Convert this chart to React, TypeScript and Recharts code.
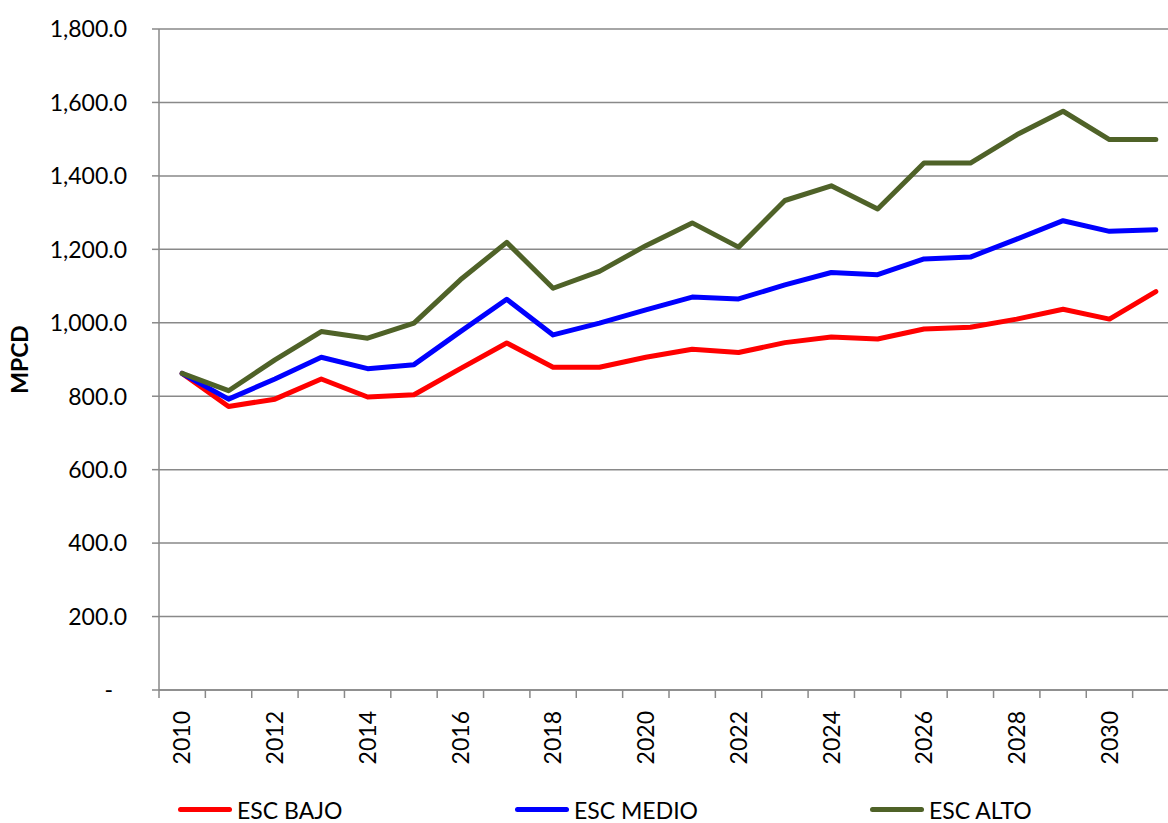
import React from 'react';
import { LineChart, Line, XAxis, YAxis, CartesianGrid } from 'recharts';

const years = [
  '2010', '2011', '2012', '2013', '2014', '2015', '2016', '2017', '2018', '2019', '2020',
  '2021', '2022', '2023', '2024', '2025', '2026', '2027', '2028', '2029', '2030', '2031',
];

const escBajo = [862, 772, 792, 847, 798, 804, 875, 945, 879, 879, 906, 928, 919, 946, 961, 956, 983, 988, 1010, 1037, 1010, 1085];
const escMedio = [862, 792, 847, 906, 875, 886, 976, 1064, 967, 999, 1035, 1070, 1065, 1103, 1137, 1131, 1174, 1179, 1228, 1278, 1249, 1253];
const escAlto = [862, 815, 899, 976, 958, 999, 1117, 1219, 1094, 1140, 1210, 1272, 1206, 1333, 1373, 1310, 1435, 1435, 1512, 1576, 1499, 1499];

const yTicks = [0, 200, 400, 600, 800, 1000, 1200, 1400, 1600, 1800];

const seriesNames = ['ESC BAJO', 'ESC MEDIO', 'ESC ALTO'];
const seriesKeys = ['bajo', 'medio', 'alto'];
const seriesColors = ['#FF0000', '#0000FF', '#4F6228'];

const data = years.map((year, i) => ({
  year,
  bajo: escBajo[i],
  medio: escMedio[i],
  alto: escAlto[i],
}));

const CHART_W = 1200;
const CHART_H = 823;
const Y_AXIS_W = 159;
const MARGIN = { top: 29, right: 21, bottom: 43, left: 0 };
const BAND = (CHART_W - MARGIN.left - MARGIN.right - Y_AXIS_W) / years.length;
const GRID = '#898989';
const FONT = 'Lato, "Open Sans", sans-serif';

const fmt = new Intl.NumberFormat('en-US', { minimumFractionDigits: 1, maximumFractionDigits: 1 });

function XTick(props: any) {
  const { x, y, payload, index } = props;
  const bx = x - BAND / 2;
  return (
    <g>
      <line x1={bx} y1={y} x2={bx} y2={y + 8} stroke={GRID} strokeWidth={1.5} />
      {index % 2 === 0 && (
        <text
          x={x}
          y={y + 21}
          transform={`rotate(-90 ${x} ${y + 21})`}
          textAnchor="end"
          dy="0.36em"
          fill="#000"
          fontSize={23}
          fontFamily={FONT}
        >
          {payload.value}
        </text>
      )}
    </g>
  );
}

function YTick(props: any) {
  const { x, y, payload } = props;
  const v = payload.value;
  return (
    <text
      x={x}
      y={y}
      dx={v === 0 ? -14 : 0}
      dy="0.36em"
      textAnchor="end"
      fill="#000"
      fontSize={23}
      fontFamily={FONT}
    >
      {v === 0 ? '-' : fmt.format(v)}
    </text>
  );
}

function YTitle(props: any) {
  const vb = props.viewBox || { x: 0, y: 29, width: Y_AXIS_W, height: 661 };
  const cx = 20;
  const cy = vb.y + vb.height / 2;
  return (
    <text
      x={cx}
      y={cy}
      transform={`rotate(-90 ${cx} ${cy})`}
      textAnchor="middle"
      dy="0.36em"
      fontWeight="bold"
      fontSize={23}
      fontFamily={FONT}
      fill="#000"
    >
      MPCD
    </text>
  );
}

const legendLeft = [178, 515, 870];

function ChartLegend() {
  return (
    <div style={{ position: 'absolute', top: 798, left: 0, width: CHART_W, height: 24 }}>
      {seriesNames.map((name, i) => (
        <div
          key={name}
          style={{
            position: 'absolute',
            left: legendLeft[i],
            top: 0,
            height: 24,
            lineHeight: '24px',
            display: 'flex',
            alignItems: 'center',
            fontFamily: FONT,
            fontSize: 23,
            color: '#000',
            whiteSpace: 'nowrap',
          }}
        >
          <span
            style={{
              display: 'inline-block',
              width: 54,
              height: 5,
              borderRadius: 3,
              background: seriesColors[i],
              marginRight: 5,
              marginTop: -2,
            }}
          />
          {name}
        </div>
      ))}
    </div>
  );
}

export default function App() {
  return (
    <div
      style={{
        position: 'fixed',
        left: 0,
        top: 0,
        width: 1168,
        height: 823,
        overflow: 'hidden',
        background: '#fff',
      }}
    >
      <LineChart width={CHART_W} height={CHART_H} data={data} margin={MARGIN}>
        <CartesianGrid vertical={false} stroke={GRID} strokeWidth={1.5} />
        <XAxis
          dataKey="year"
          interval={0}
          height={90}
          padding={{ left: BAND / 2, right: BAND / 2 }}
          tickSize={0}
          tickMargin={0}
          tickLine={false}
          axisLine={{ stroke: GRID, strokeWidth: 1.5 }}
          tick={<XTick />}
        />
        <YAxis
          width={Y_AXIS_W}
          domain={[0, 1800]}
          ticks={yTicks}
          interval={0}
          tickSize={7}
          tickMargin={25}
          tickLine={{ stroke: GRID, strokeWidth: 1.5 }}
          axisLine={{ stroke: GRID, strokeWidth: 1.5 }}
          tick={<YTick />}
          label={{ content: <YTitle /> } as any}
        />
        {seriesKeys.map((k, i) => (
          <Line
            key={k}
            type="linear"
            dataKey={k}
            name={seriesNames[i]}
            stroke={seriesColors[i]}
            strokeWidth={5}
            strokeLinecap="round"
            strokeLinejoin="round"
            dot={false}
            activeDot={false}
            isAnimationActive={false}
          />
        ))}
      </LineChart>
      <ChartLegend />
    </div>
  );
}
